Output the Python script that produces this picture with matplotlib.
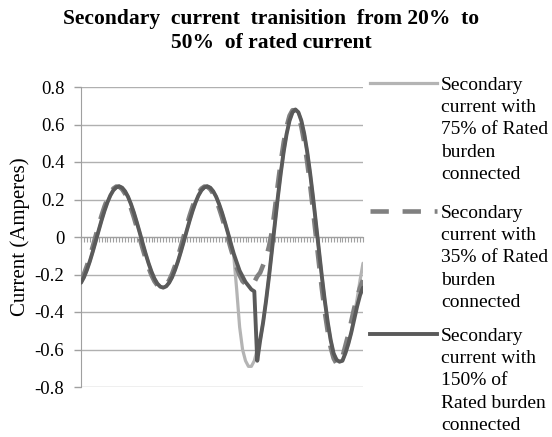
import matplotlib
matplotlib.use("Agg")
import matplotlib.pyplot as plt
from matplotlib.lines import Line2D
import numpy as np

plt.rcParams['font.family'] = ['Liberation Serif', 'DejaVu Serif']

# secondary current samples (A), one value per category
burden_75 = [-0.244, -0.215, -0.176, -0.130, -0.078, -0.023, 0.034, 0.089, 0.140, 0.185,
             0.222, 0.249, 0.265, 0.270, 0.263, 0.244, 0.215, 0.176, 0.130, 0.078,
             0.023, -0.034, -0.089, -0.140, -0.185, -0.222, -0.249, -0.265, -0.270, -0.263,
             -0.244, -0.215, -0.176, -0.130, -0.078, -0.023, 0.034, 0.089, 0.140, 0.185,
             0.222, 0.249, 0.265, 0.270, 0.263, 0.244, 0.215, 0.176, 0.130, 0.078,
             0.023, -0.034, -0.10, -0.28, -0.48, -0.60, -0.66, -0.69, -0.69, -0.66,
             -0.60, -0.55, -0.455, -0.34, -0.211, -0.071, 0.071, 0.211, 0.34, 0.455,
             0.55, 0.621, 0.665, 0.68, 0.665, 0.621, 0.55, 0.455, 0.34, 0.211,
             0.071, -0.071, -0.211, -0.34, -0.455, -0.55, -0.621, -0.655, -0.665, -0.66,
             -0.62, -0.57, -0.51, -0.42, -0.33, -0.23, -0.14]

burden_35 = [-0.231, -0.197, -0.154, -0.105, -0.051, 0.006, 0.062, 0.115, 0.163, 0.204,
             0.236, 0.258, 0.269, 0.268, 0.255, 0.231, 0.197, 0.154, 0.105, 0.051,
             -0.006, -0.062, -0.115, -0.163, -0.204, -0.236, -0.258, -0.269, -0.268, -0.255,
             -0.231, -0.197, -0.154, -0.105, -0.051, 0.006, 0.062, 0.115, 0.163, 0.204,
             0.236, 0.258, 0.269, 0.268, 0.255, 0.231, 0.197, 0.154, 0.105, 0.051,
             -0.006, -0.062, -0.115, -0.163, -0.204, -0.236, -0.25, -0.26, -0.26, -0.24,
             -0.21, -0.19, -0.15, -0.11, -0.05, 0.03, 0.15, 0.28, 0.40, 0.505,
             0.589, 0.647, 0.676, 0.676, 0.647, 0.589, 0.505, 0.40, 0.277, 0.141,
             0.0, -0.141, -0.277, -0.40, -0.505, -0.589, -0.647, -0.676, -0.676, -0.64,
             -0.58, -0.52, -0.45, -0.38, -0.32, -0.27, -0.23]

burden_150 = [-0.244, -0.215, -0.176, -0.130, -0.078, -0.023, 0.034, 0.089, 0.140, 0.185,
              0.222, 0.249, 0.265, 0.270, 0.263, 0.244, 0.215, 0.176, 0.130, 0.078,
              0.023, -0.034, -0.089, -0.140, -0.185, -0.222, -0.249, -0.265, -0.270, -0.263,
              -0.244, -0.215, -0.176, -0.130, -0.078, -0.023, 0.034, 0.089, 0.140, 0.185,
              0.222, 0.249, 0.265, 0.270, 0.263, 0.244, 0.215, 0.176, 0.130, 0.078,
              0.023, -0.034, -0.089, -0.135, -0.18, -0.21, -0.24, -0.26, -0.28, -0.29,
              -0.66, -0.55, -0.455, -0.34, -0.211, -0.071, 0.071, 0.211, 0.34, 0.455,
              0.55, 0.621, 0.665, 0.68, 0.665, 0.621, 0.55, 0.455, 0.34, 0.211,
              0.071, -0.071, -0.211, -0.34, -0.455, -0.55, -0.621, -0.655, -0.665, -0.66,
              -0.62, -0.57, -0.51, -0.44, -0.37, -0.31, -0.27]

labels = ['Secondary\ncurrent with\n75% of Rated\nburden\nconnected',
          'Secondary\ncurrent with\n35% of Rated\nburden\nconnected',
          'Secondary\ncurrent with\n150% of\nRated burden\nconnected']
yticks = [-0.8, -0.6, -0.4, -0.2, 0, 0.2, 0.4, 0.6, 0.8]
title = 'Secondary  current  tranisition  from 20%  to\n50%  of rated current'

W, H = 552, 437
fig = plt.figure(figsize=(W / 100, H / 100), dpi=100)
ax = fig.add_axes([81 / W, 1 - 387 / H, 282 / W, 300 / H])

x = np.arange(len(burden_150))
styles = [dict(color='#b4b4b4', lw=2.3, ls='-'),
          dict(color='#808080', lw=3.3, ls=(0, (4, 3))),
          dict(color='#5a5a5a', lw=2.8, ls='-')]
for ys, st in zip([burden_75, burden_35, burden_150], styles):
    ax.plot(x, ys, solid_capstyle='round', dash_capstyle='butt', **st, zorder=3)

ax.set_xlim(0, len(x) - 1)
ax.set_ylim(-0.8, 0.8)
ax.set_yticks(yticks)
ax.set_yticklabels(['0' if v == 0 else f'{v:.1f}' for v in yticks])
ax.set_xticks(x)
ax.set_xticklabels([])
ax.yaxis.grid(True, color='#b0b0b0', lw=1.0)
ax.set_axisbelow(True)
for s in ['top', 'right']:
    ax.spines[s].set_visible(False)
ax.spines['bottom'].set_position(('data', 0))
ax.spines['bottom'].set_color('#a0a0a0')
ax.spines['left'].set_color('#a0a0a0')
ax.tick_params(axis='x', direction='out', length=3.6, width=0.8, color='#a0a0a0')
ax.tick_params(axis='y', direction='out', length=5, width=1, color='#a0a0a0',
               pad=7, labelsize=13.5)
ax.set_ylabel('Current (Amperes)', fontsize=15, labelpad=3)

fig.text(271 / W, 1 - 9 / H, title, ha='center', va='top', fontsize=15.5,
         fontweight='bold', linespacing=1.3)

# legend drawn by hand so the handle sits on the first text line
tops = [76, 204, 327]
for lab, st, t in zip(labels, styles, tops):
    yl = 1 - (t + 7) / H
    fig.add_artist(Line2D([370 / W, 437 / W], [yl, yl], transform=fig.transFigure,
                          **st))
    fig.text(441 / W, 1 - (t + 1) / H, lab, ha='left', va='top', fontsize=14,
             linespacing=1.4)

fig.savefig('out.png', dpi=100)
